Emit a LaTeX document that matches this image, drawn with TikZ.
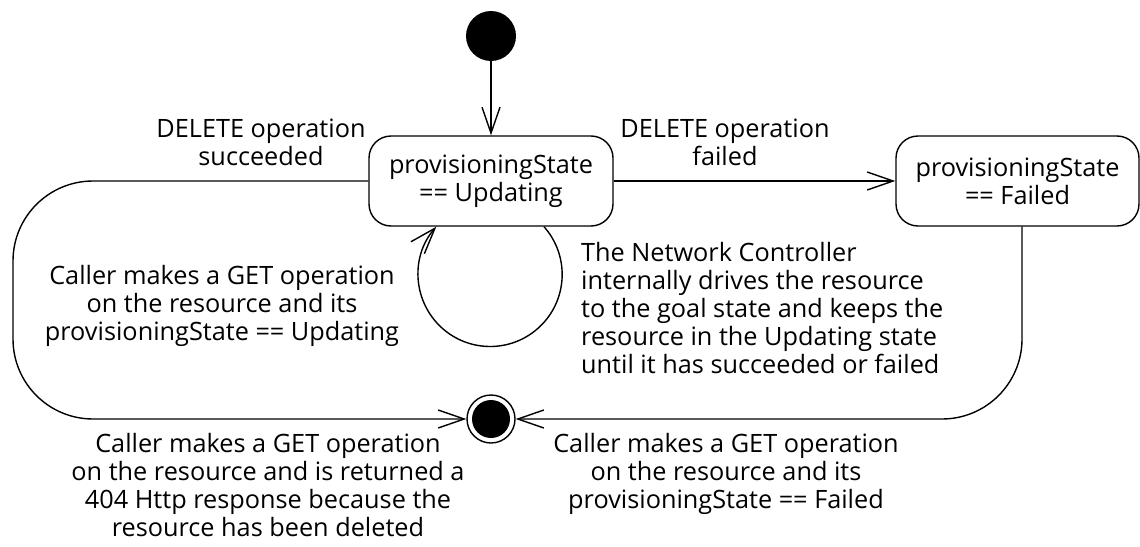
\documentclass[tikz,border=0pt]{standalone}
\usepackage{fontspec}
\setmainfont{Open Sans}
\usetikzlibrary{arrows.meta}
\newlength\calw
\begin{document}
\settowidth\calw{\fontsize{10pt}{12pt}\selectfont provisioningState}%
\pgfmathsetmacro\fsz{10*204/\calw}%
\begin{tikzpicture}[x=1pt,y=1pt,
  txt/.style={font=\fontsize{\fsz pt}{28pt}\selectfont, inner sep=0pt},
  lbl/.style={txt, align=center, anchor=base},
  state/.style={txt, draw, line width=1.4pt, rounded corners=22pt, minimum height=90pt, align=center},
  tr/.style={line width=1.4pt, -{Straight Barb[length=26pt,width=18pt]}},
  flow/.style={line width=1.4pt, rounded corners=80pt, -{Straight Barb[length=26pt,width=18pt]}}]
\useasboundingbox (0,0) rectangle (1140,-546);
% states
\node[circle, fill=black, minimum size=50pt, inner sep=0pt] (init) at (491,-36) {};
\node[state, minimum width=244pt] (upd) at (491,-181) {provisioningState\\== Updating};
\node[state, minimum width=243pt] (fail) at (1017.5,-181) {provisioningState\\== Failed};
\node[circle, draw, line width=1.4pt, minimum size=48pt, inner sep=0pt,
  path picture={\fill (path picture bounding box.center) circle (19pt);}] (fin) at (491,-419) {};
% connectors
\draw[tr] (init) -- (upd);
\draw[tr] (upd) -- (fail);
\draw[tr] ([xshift=53pt]upd.south) arc[start angle=41.6, end angle=-221.6, radius=72pt];
\coordinate (lc) at (13,-419);
\draw[flow] (upd.west) -| (lc) -- (fin.west);
\draw[flow] ([xshift=4.5pt]fail.south) |- (fin.east);
% labels (anchor base = baseline of the last line)
\node[lbl] (l1) at (261,-165) {DELETE operation\\succeeded};
\node[lbl] (l2) at (725,-165) {DELETE operation\\failed};
\node[lbl] (l3) at (222,-340) {Caller makes a GET operation\\on the resource and its\\provisioningState == Updating};
\node[txt, align=left, anchor=base west] (l4) at (581,-373) {The Network Controller\\internally drives the resource\\to the goal state and keeps the\\resource in the Updating state\\until it has succeeded or failed};
\node[lbl] (l5) at (268,-536) {Caller makes a GET operation\\on the resource and is returned a\\404 Http response because the\\resource has been deleted};
\node[lbl] (l6) at (726,-508) {Caller makes a GET operation\\on the resource and its\\provisioningState == Failed};
\end{tikzpicture}
\end{document}
